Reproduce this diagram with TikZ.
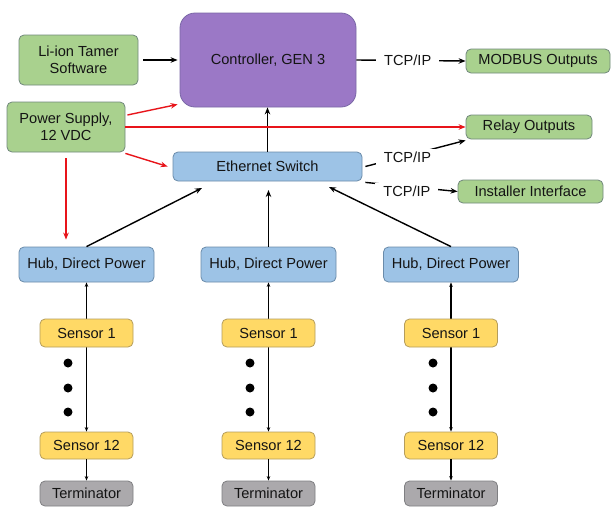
\documentclass[tikz,border=0pt]{standalone}
\usepackage{fontspec}
\setmainfont{Liberation Sans}
\usetikzlibrary{arrows.meta,calc}
\definecolor{gfill}{HTML}{A9D18E}\definecolor{gdraw}{HTML}{71887C}
\definecolor{bfill}{HTML}{9DC3E6}\definecolor{bdraw}{HTML}{6A8BAA}
\definecolor{pfill}{HTML}{9B78C6}\definecolor{pdraw}{HTML}{7A68A6}
\definecolor{yfill}{HTML}{FFD966}\definecolor{ydraw}{HTML}{B59D5C}
\definecolor{tfill}{HTML}{ABA9AC}\definecolor{tdraw}{HTML}{7F7F82}
\definecolor{redl}{HTML}{E8141A}
\begin{document}
\begin{tikzpicture}[x=1pt,y=-1pt,
  box/.style={rounded corners=5pt,line width=0.8pt,inner sep=0pt,align=center,
    font=\fontsize{14.6}{17}\selectfont,text=black!92},
  gbox/.style={box,fill=gfill,draw=gdraw},
  bbox/.style={box,fill=bfill,draw=bdraw},
  ybox/.style={box,fill=yfill,draw=ydraw},
  tbox/.style={box,fill=tfill,draw=tdraw},
  arr/.style={-{Stealth[length=7pt,width=5.5pt]},line width=1.4pt,black},
  rarr/.style={-{Stealth[length=7pt,width=5.5pt]},line width=1.4pt,redl},
  sarr/.style={-{Stealth[length=4.5pt,width=3.5pt]},line width=1.2pt,black},
  lbl/.style={fill=white,inner xsep=8pt,inner ysep=3pt,font=\fontsize{14.6}{17}\selectfont,text=black!92},
  dot/.style={circle,fill=black,inner sep=0pt,minimum size=9pt}
]
\useasboundingbox[fill=white] (0,0) rectangle (611,507);

% top nodes
\node[box,fill=pfill,draw=pdraw,rounded corners=15pt,minimum width=176pt,minimum height=94pt] (ctrl) at (268,60) {Controller, GEN 3};
\node[gbox,minimum width=119pt,minimum height=50pt] (liion) at (78.5,60) {Li-ion Tamer\\Software};
\node[gbox,minimum width=118pt,minimum height=50pt] (power) at (66,127) {Power Supply,\\12 VDC};
\node[bbox,minimum width=189pt,minimum height=29pt] (eth) at (267.5,166.5) {Ethernet Switch};
\node[gbox,minimum width=144pt,minimum height=24pt] (modbus) at (538,61) {MODBUS Outputs};
\node[gbox,minimum width=126pt,minimum height=24pt] (relay) at (529,127) {Relay Outputs};
\node[gbox,minimum width=145pt,minimum height=23pt] (inst) at (530.5,191.5) {Installer Interface};

% top connectors
\draw[arr] ([xshift=5pt]liion.east) -- ([xshift=-2pt]ctrl.west);
\draw[arr] (ctrl.east) -- node[lbl,pos=0.47]{TCP/IP} (modbus.west);
\draw[arr] ([xshift=3pt]eth.east) -- node[lbl,pos=0.42,yshift=-2pt]{TCP/IP} ([yshift=-1pt]relay.south west);
\draw[arr] ([shift={(3,1)}]eth.south east) -- node[lbl,pos=0.45,yshift=-5pt]{TCP/IP} (inst.west);
\draw[arr] (eth.north) -- (eth.north |- ctrl.south);

\draw[rarr] ([shift={(2,-12)}]power.east) -- ([shift={(-2,-3)}]ctrl.south west);
\draw[rarr] (power.east) -- (relay.west);
\draw[rarr] ([shift={(0,1)}]power.south east) -- ([xshift=-5pt]eth.west);

% columns
\foreach \i/\cx/\dx in {1/86.5/68, 2/268.5/250, 3/451/433}{
  \node[bbox,minimum width=135pt,minimum height=35pt] (hub\i) at (\cx,264.5) {Hub, Direct Power};
  \node[ybox,minimum width=93pt,minimum height=27pt] (sb\i) at (\cx,445.5) {Sensor 12};
  \node[tbox,minimum width=93pt,minimum height=25pt] (term\i) at (\cx,493.5) {Terminator};
  \draw[sarr,{Stealth[length=4.5pt,width=3.5pt]}-{Stealth[length=4.5pt,width=3.5pt]}] (sb\i.north) -- (hub\i.south);
  \draw[sarr] (sb\i.south) -- (term\i.north);
  \node[ybox,minimum width=93pt,minimum height=28pt] (sa\i) at (\cx,333) {Sensor 1};
  \node[dot] (da\i) at (\dx,363) {};
  \node[dot] (db\i) at (\dx,388) {};
  \node[dot] (dc\i) at (\dx,412) {};
}

\draw[rarr] ([shift={(0,6)}]power.south) -- ([shift={(0,-7)}]power.south |- hub1.north);

\coordinate (e1) at (202,188);
\coordinate (e2) at (268.5,190);
\coordinate (e3) at (329,187);
\draw[arr] (hub1.north) -- (e1);
\draw[arr] (hub2.north) -- (e2);
\draw[arr] (hub3.north) -- (e3);
\end{tikzpicture}
\end{document}
